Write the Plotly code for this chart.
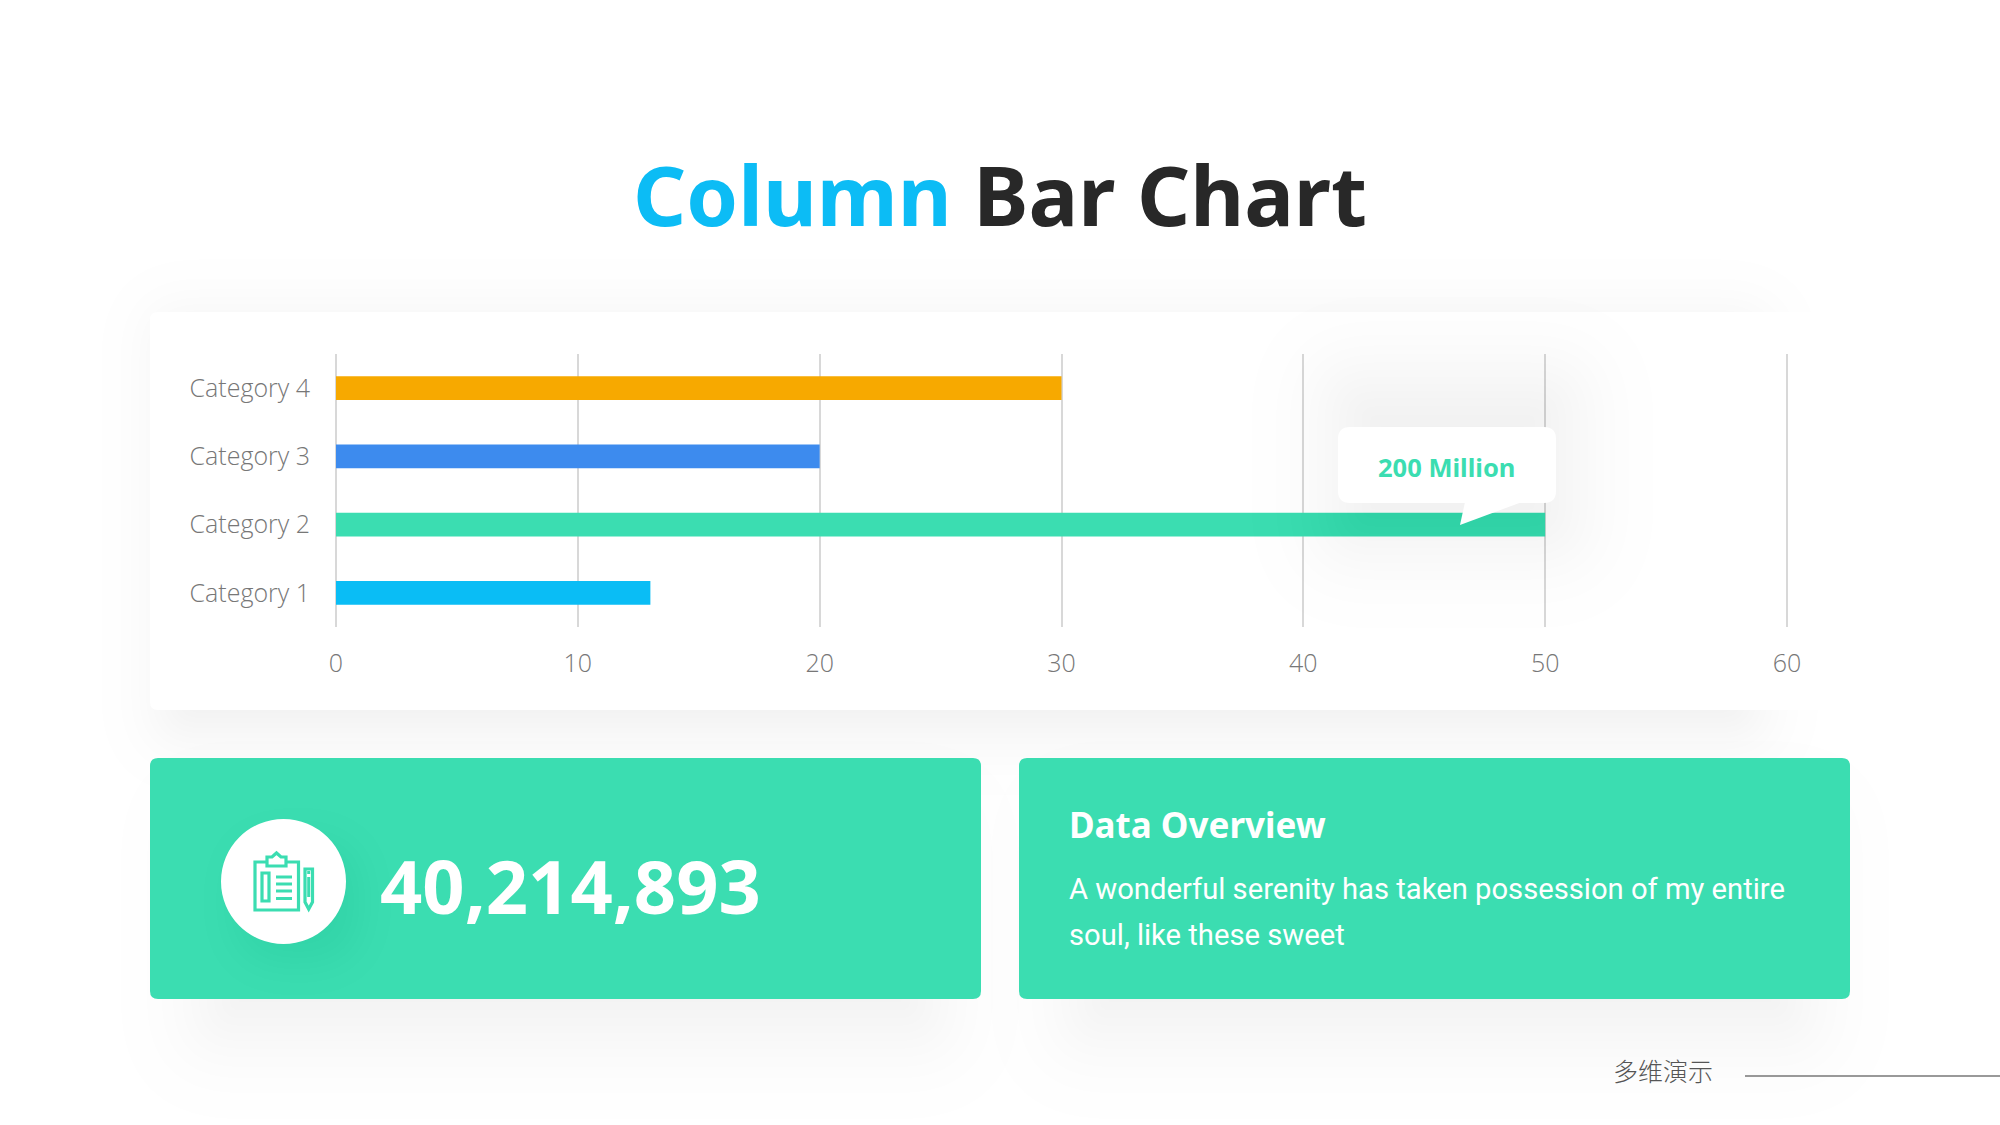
from statistics import NormalDist

import plotly.graph_objects as go

# Chart data
categories = ["Category 1", "Category 2", "Category 3", "Category 4"]
values = [13, 50, 20, 30]
bar_colors = ["#0abdf5", "#3bddb1", "#3d8bee", "#f7a900"]
x_ticks = [0, 10, 20, 30, 40, 50, 60]

# Slide texts
title_blue = "Column"
title_dark = "Bar Chart"
callout_text = "200 Million"
big_number = "40,214,893"
overview_title = "Data Overview"
overview_lines = ["A wonderful serenity has taken possession of my entire", "soul, like these sweet"]
footer_text = "多维演示"

W = 2000
H = 1125
GREEN = "#3bddb1"


def px(x):
    return x / W


def py(y):
    return 1 - y / H


def round_rect(x0, y0, x1, y1, r):
    # rounded rectangle as a path in paper coordinates
    r = min(r, (x1 - x0) / 2, (y1 - y0) / 2)
    return (
        f"M {px(x0 + r)} {py(y0)} L {px(x1 - r)} {py(y0)} Q {px(x1)} {py(y0)} {px(x1)} {py(y0 + r)} "
        f"L {px(x1)} {py(y1 - r)} Q {px(x1)} {py(y1)} {px(x1 - r)} {py(y1)} "
        f"L {px(x0 + r)} {py(y1)} Q {px(x0)} {py(y1)} {px(x0)} {py(y1 - r)} "
        f"L {px(x0)} {py(y0 + r)} Q {px(x0)} {py(y0)} {px(x0 + r)} {py(y0)} Z"
    )


shapes = []


def add_path(path, fill, layer="below", opacity=1):
    shapes.append(dict(type="path", xref="paper", yref="paper", path=path, fillcolor=fill,
                       line=dict(width=0), layer=layer, opacity=opacity))


def add_box(x0, y0, x1, y1, r, fill, layer="below"):
    add_path(round_rect(x0, y0, x1, y1, r), fill, layer)


def add_shadow(x0, y0, x1, y1, sigma, levels, r=6, dx=0, dy=0, layer="below"):
    # soft shadow: stacked faint boxes, one grey level each
    for k in range(levels):
        d = sigma * NormalDist().inv_cdf((k + 0.5) / levels)
        grow = -d
        if x1 - x0 + 2 * grow <= 2 or y1 - y0 + 2 * grow <= 2:
            continue
        add_path(round_rect(x0 + dx - grow, y0 + dy - grow, x1 + dx + grow, y1 + dy + grow, max(r + grow, 2)),
                 "#000000", layer, 0.0045)


def add_line(x0, y0, x1, y1, color, width, layer="below"):
    shapes.append(dict(type="line", xref="paper", yref="paper", x0=px(x0), y0=py(y0), x1=px(x1), y1=py(y1),
                       line=dict(color=color, width=width), layer=layer))


# Chart panel, its right edge melts into the page
add_shadow(170, 312, 1750, 710, 36, 18, r=30, dy=16)
add_box(150, 312, 1880, 710, 8, "#ffffff")

# Green cards
add_shadow(210, 800, 930, 1000, 48, 16, r=30, dy=30)
add_shadow(1080, 800, 1800, 1000, 48, 16, r=30, dy=30)
add_box(150, 758, 981, 999, 8, GREEN)
add_box(1019, 758, 1850, 999, 8, GREEN)

# White circle with its shadow
add_shadow(221, 819, 346, 944, 20, 9, r=62, dx=14, dy=20)
shapes.append(dict(type="circle", xref="paper", yref="paper", x0=px(221), y0=py(819), x1=px(346), y1=py(944),
                   fillcolor="#ffffff", line=dict(width=0), layer="below"))

# Clipboard and pencil icon
icon_line = dict(color=GREEN, width=3.2)
for x0, y0, x1, y1 in [(255, 862, 298.5, 910), (262, 873, 269, 901)]:
    shapes.append(dict(type="rect", xref="paper", yref="paper", x0=px(x0), y0=py(y0), x1=px(x1), y1=py(y1),
                       line=icon_line, layer="below"))
for y in [877, 884, 891, 898.5]:
    add_line(276, y, 292, y, GREEN, 3)
shapes.append(dict(type="path", xref="paper", yref="paper", line=icon_line, layer="below", fillcolor="#ffffff",
                   path=f"M {px(267)} {py(866)} L {px(267)} {py(857)} L {px(272)} {py(857)} L {px(276.5)} {py(853)} "
                        f"L {px(281)} {py(857)} L {px(286)} {py(857)} L {px(286)} {py(866)} Z"))
shapes.append(dict(type="path", xref="paper", yref="paper", line=icon_line, layer="below",
                   path=f"M {px(305)} {py(869)} L {px(312.5)} {py(869)} L {px(312.5)} {py(902)} L {px(308.7)} {py(909)} "
                        f"L {px(305)} {py(902)} Z"))
add_line(308.7, 877, 308.7, 897, GREEN, 3)
add_line(308.7, 871, 308.7, 874, GREEN, 3)

# Callout on top of the bars
add_shadow(1335, 380, 1570, 545, 45, 16, r=40, layer="above")
add_box(1338, 427, 1556, 503, 12, "#ffffff", layer="above")
add_path(f"M {px(1465)} {py(502)} L {px(1460)} {py(525)} L {px(1522)} {py(502)} Z", "#ffffff", layer="above")

# Footer rule
add_line(1745, 1076, 2000, 1076, "#777777", 1.5)

fig = go.Figure(go.Bar(
    y=categories,
    x=values,
    orientation="h",
    marker=dict(color=bar_colors, line=dict(width=0)),
    width=0.35,
    hoverinfo="skip",
))


def add_text(x, y, text, size, color, family="Noto Sans", anchor="left", weight=None):
    font = dict(family=family, size=size, color=color)
    if weight:
        font["weight"] = weight
    fig.add_annotation(x=px(x), y=py(y), xref="paper", yref="paper", text=text, showarrow=False,
                       xanchor=anchor, yanchor="middle", font=font, borderpad=0)


add_text(999.5, 194, f'<span style="color:#0cbcf5">{title_blue}</span> {title_dark}', 83, "#282828",
         anchor="center", weight=700)
add_text(1446, 467, callout_text, 25.5, GREEN, anchor="center", weight=700)
add_text(379, 885, big_number, 74, "#ffffff", weight=700)
add_text(1068, 824, overview_title, 35, "#ffffff", weight=700)
add_text(1068, 889, overview_lines[0], 29.2, "#ffffff", family="Roboto")
add_text(1068, 935, overview_lines[1], 29.2, "#ffffff", family="Roboto")
add_text(1612, 1070, footer_text, 25, "#555555", family="Noto Sans CJK SC", weight=300)

# range runs a little past 0 and 60 so the end gridlines get drawn too
axis_font = dict(family="Open Sans", size=25, color="#777777", weight=300)
fig.update_layout(
    width=W,
    height=H,
    margin=dict(l=0, r=0, t=0, b=0),
    paper_bgcolor="#ffffff",
    plot_bgcolor="rgba(0,0,0,0)",
    showlegend=False,
    shapes=shapes,
    xaxis=dict(domain=[px(333.58), px(1789.42)], range=[-0.1, 60.1], tickvals=x_ticks, showgrid=True,
               gridcolor="#d8d8d8", gridwidth=2, zeroline=False, showline=False, ticks="outside", ticklen=14,
               tickcolor="rgba(0,0,0,0)", tickfont=axis_font, automargin=False),
    yaxis=dict(domain=[py(627), py(354)], showgrid=False, zeroline=False, showline=False, ticks="outside",
               ticklen=17.5, tickcolor="rgba(0,0,0,0)", tickfont=axis_font, automargin=False),
)

fig.write_html("out.html", config={"displayModeBar": False}, post_script="document.body.style.margin='0';")
